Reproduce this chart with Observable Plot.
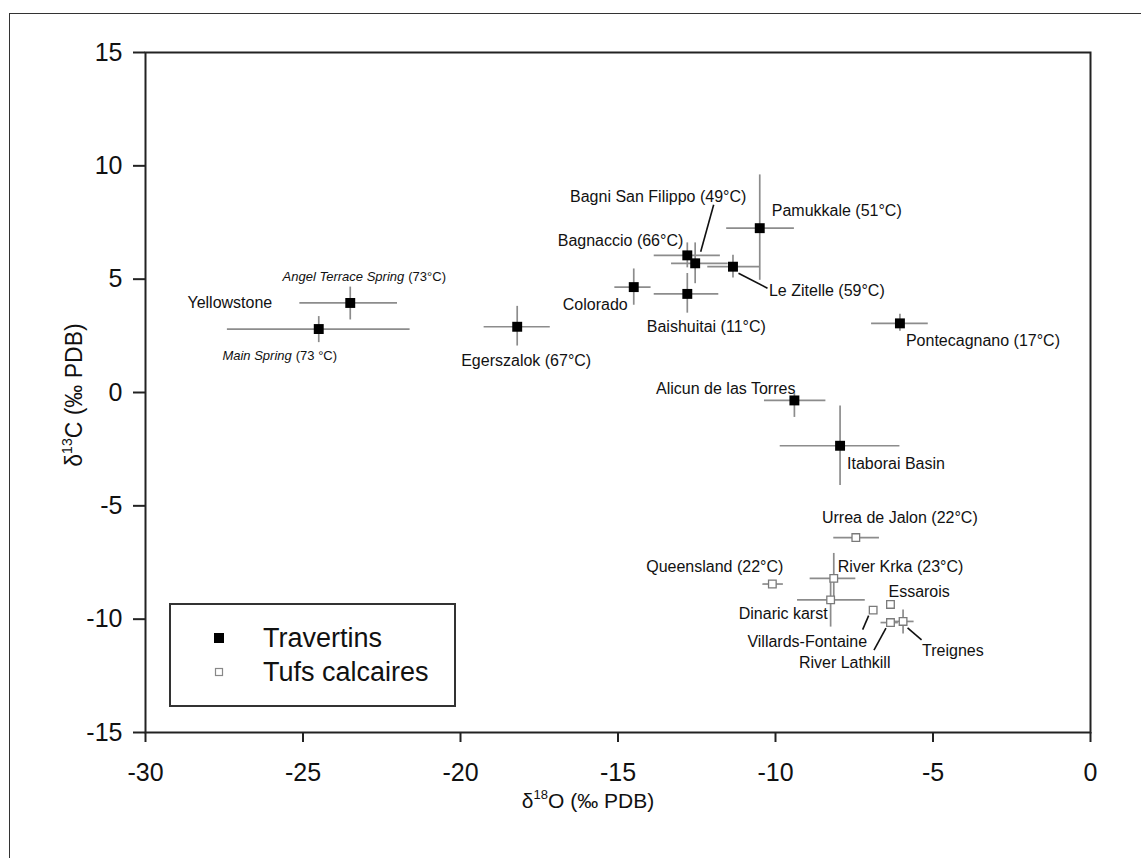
<!DOCTYPE html>
<html>
<head>
<meta charset="utf-8">
<script src="https://cdn.jsdelivr.net/npm/d3@7"></script>
<script src="https://cdn.jsdelivr.net/npm/@observablehq/plot@0.6"></script>
<style>
  html, body { margin: 0; padding: 0; background: #fff; overflow: hidden; }
  #wrap { position: relative; width: 1141px; height: 858px; }
  #outer { position: absolute; left: 9px; top: 13px; width: 1300px; height: 1000px;
           border-left: 1.5px solid #333; border-top: 1.5px solid #333; pointer-events: none; }
  #chart { position: absolute; left: 0; top: 0; }
</style>
</head>
<body>
<div id="wrap"><div id="chart"></div><div id="outer"></div></div>
<script>
// ---------------- DATA ----------------
const names = [
  "Angel Terrace Spring", "Main Spring", "Egerszalok", "Colorado", "Bagnaccio",
  "Bagni San Filippo", "Le Zitelle", "Pamukkale", "Baishuitai", "Pontecagnano",
  "Alicun de las Torres", "Itaborai Basin",
  "Urrea de Jalon", "Queensland", "River Krka", "Dinaric karst",
  "Villards-Fontaine", "Essarois", "River Lathkill", "Treignes"
];
const groups = [
  "Travertins", "Travertins", "Travertins", "Travertins", "Travertins",
  "Travertins", "Travertins", "Travertins", "Travertins", "Travertins",
  "Travertins", "Travertins",
  "Tufs calcaires", "Tufs calcaires", "Tufs calcaires", "Tufs calcaires",
  "Tufs calcaires", "Tufs calcaires", "Tufs calcaires", "Tufs calcaires"
];
const d18O    = [-23.5, -24.5, -18.2, -14.5, -12.8, -12.55, -11.35, -10.5, -12.8, -6.05, -9.4, -7.95,
                 -7.45, -10.1, -8.15, -8.25, -6.9, -6.35, -6.35, -5.95];
const d13C    = [3.95, 2.8, 2.9, 4.65, 6.05, 5.7, 5.55, 7.25, 4.35, 3.05, -0.35, -2.35,
                 -6.4, -8.45, -8.2, -9.15, -9.6, -9.35, -10.15, -10.1];
const d18OMin = [-25.1, -27.4, -19.25, -15.1, -13.85, -13.3, -12.15, -11.55, -13.85, -6.95, -10.35, -9.85,
                 -8.15, -10.4, -8.9, -9.3, null, null, -6.65, -6.25];
const d18OMax = [-22.0, -21.6, -17.15, -13.95, -11.75, -11.5, -10.5, -9.4, -11.8, -5.15, -8.4, -6.05,
                 -6.7, -9.75, -7.45, -7.15, null, null, -6.1, -5.6];
const d13CMin = [3.2, 2.2, 2.05, 3.85, 5.5, 4.8, 5.05, 4.95, 3.5, 2.7, -1.1, -4.1,
                 null, null, -9.2, -10.35, null, null, null, -10.65];
const d13CMax = [4.65, 3.35, 3.8, 5.45, 6.6, 6.6, 6.05, 9.6, 5.25, 3.45, -0.05, -0.6,
                 null, null, -7.1, -8.2, null, null, null, -9.6];

const xTicks = [-30, -25, -20, -15, -10, -5, 0];
const yTicks = [-15, -10, -5, 0, 5, 10, 15];
const legendItems = ["Travertins", "Tufs calcaires"];

const labelTexts = {
  "Egerszalok": "Egerszalok (67°C)",
  "Colorado": "Colorado",
  "Bagnaccio": "Bagnaccio (66°C)",
  "Bagni San Filippo": "Bagni San Filippo (49°C)",
  "Pamukkale": "Pamukkale (51°C)",
  "Le Zitelle": "Le Zitelle (59°C)",
  "Baishuitai": "Baishuitai (11°C)",
  "Pontecagnano": "Pontecagnano (17°C)",
  "Alicun de las Torres": "Alicun de las Torres",
  "Itaborai Basin": "Itaborai Basin",
  "Urrea de Jalon": "Urrea de Jalon (22°C)",
  "Queensland": "Queensland (22°C)",
  "River Krka": "River Krka (23°C)",
  "Dinaric karst": "Dinaric karst",
  "Villards-Fontaine": "Villards-Fontaine",
  "Essarois": "Essarois",
  "River Lathkill": "River Lathkill",
  "Treignes": "Treignes"
};

// ---------------- LAYOUT (pixel offsets from the point) ----------------
const labelLayout = {
  "Egerszalok": [9, 34, "middle"],
  "Colorado": [-6, 18, "end"],
  "Bagnaccio": [-4, -14, "end"],
  "Bagni San Filippo": [-37, -66, "middle"],
  "Pamukkale": [12, -17, "start"],
  "Le Zitelle": [36, 24, "start"],
  "Baishuitai": [19, 33, "middle"],
  "Pontecagnano": [6, 18, "start"],
  "Alicun de las Torres": [1, -12, "end"],
  "Itaborai Basin": [7, 18, "start"],
  "Urrea de Jalon": [44, -20, "middle"],
  "Queensland": [11, -17, "end"],
  "River Krka": [4, -11, "start"],
  "Dinaric karst": [-3, 14, "end"],
  "Villards-Fontaine": [-6, 32, "end"],
  "Essarois": [-2, -13, "start"],
  "River Lathkill": [0, 40, "end"],
  "Treignes": [19, 29, "start"]
};
const leaderLayout = {
  "Bagni San Filippo": [19, -58, 6, -11],
  "Le Zitelle": [6, 7, 35, 22],
  "Villards-Fontaine": [-4, 6, -10, 20],
  "River Lathkill": [-4, 6, -16, 28],
  "Treignes": [5, 7, 19, 19]
};

const FONT = "'Liberation Sans', Arial, Helvetica, sans-serif";

const points = names.map((n, i) => ({
  name: n, group: groups[i], x: d18O[i], y: d13C[i],
  xMin: d18OMin[i], xMax: d18OMax[i], yMin: d13CMin[i], yMax: d13CMax[i]
}));
const trav = points.filter(d => d.group === "Travertins");
const tufs = points.filter(d => d.group === "Tufs calcaires");
const hBars = points.filter(d => d.xMin != null);
const vBars = points.filter(d => d.yMin != null);
const byName = Object.fromEntries(points.map(d => [d.name, d]));

const ERR = "#8c8c8c";

const labelMarks = Object.keys(labelTexts).map(n => {
  const [dx, dy, anchor] = labelLayout[n];
  return Plot.text([byName[n]], {
    x: "x", y: "y", text: () => labelTexts[n], dx, dy, textAnchor: anchor,
    fontSize: 16, fill: "#111", fontFamily: FONT, lineAnchor: "middle"
  });
});

const angel = byName["Angel Terrace Spring"];
const mainSp = byName["Main Spring"];
const specialLabels = [
  Plot.text([angel], {x: "x", y: "y", text: () => "Yellowstone", dx: -78, dy: 0, textAnchor: "end",
    fontSize: 16, fill: "#111", fontFamily: FONT}),
  Plot.text([angel], {x: "x", y: "y", text: () => "Angel Terrace Spring", dx: 54, dy: -26, textAnchor: "end",
    fontSize: 13, fontStyle: "italic", fill: "#111", fontFamily: FONT}),
  Plot.text([angel], {x: "x", y: "y", text: () => "(73°C)", dx: 58, dy: -26, textAnchor: "start",
    fontSize: 13, fill: "#111", fontFamily: FONT}),
  Plot.text([mainSp], {x: "x", y: "y", text: () => "Main Spring", dx: -27, dy: 27, textAnchor: "end",
    fontSize: 13, fontStyle: "italic", fill: "#111", fontFamily: FONT}),
  Plot.text([mainSp], {x: "x", y: "y", text: () => "(73 °C)", dx: -23, dy: 27, textAnchor: "start",
    fontSize: 13, fill: "#111", fontFamily: FONT})
];

// leader lines drawn through the scales
function leaders(index, scales) {
  const g = d3.create("svg:g").attr("stroke", "#111").attr("stroke-width", 1.6);
  for (const [n, [ax, ay, bx, by]] of Object.entries(leaderLayout)) {
    const p = byName[n];
    const px = scales.x(p.x), py = scales.y(p.y);
    g.append("line").attr("x1", px + ax).attr("y1", py + ay).attr("x2", px + bx).attr("y2", py + by);
  }
  return g.node();
}

// axis titles with superscripts
function titles() {
  const g = d3.create("svg:g").attr("font-family", FONT).attr("fill", "#111");
  const tx = g.append("text").attr("x", 588).attr("y", 808).attr("text-anchor", "middle").attr("font-size", 21);
  tx.append("tspan").text("δ");
  tx.append("tspan").attr("dy", -9).attr("font-size", 13).text("18");
  tx.append("tspan").attr("dy", 9).text("O (‰ PDB)");
  const ty = g.append("text").attr("transform", "translate(82,395) rotate(-90)")
    .attr("text-anchor", "middle").attr("font-size", 23);
  ty.append("tspan").text("δ");
  ty.append("tspan").attr("dy", -10).attr("font-size", 14).text("13");
  ty.append("tspan").attr("dy", 10).text("C (‰ PDB)");
  return g.node();
}

// legend box
function legend() {
  const g = d3.create("svg:g").attr("font-family", FONT);
  g.append("rect").attr("x", 170).attr("y", 604).attr("width", 285).attr("height", 102)
    .attr("fill", "#fff").attr("stroke", "#333").attr("stroke-width", 2);
  const ys = [638, 672];
  legendItems.forEach((t, i) => {
    if (i === 0) {
      g.append("rect").attr("x", 214).attr("y", ys[i] - 5).attr("width", 10).attr("height", 10).attr("fill", "#000");
    } else {
      g.append("rect").attr("x", 215.5).attr("y", ys[i] - 3.5).attr("width", 7).attr("height", 7)
        .attr("fill", "#fff").attr("stroke", "#888").attr("stroke-width", 1.2);
    }
    g.append("text").attr("x", 263).attr("y", ys[i]).attr("dy", "0.35em").attr("font-size", 27)
      .attr("text-anchor", "start").attr("fill", "#111").text(t);
  });
  return g.node();
}

const chart = Plot.plot({
  width: 1141,
  height: 858,
  marginLeft: 145,
  marginRight: 51,
  marginTop: 52,
  marginBottom: 126,
  style: {fontFamily: FONT, background: "transparent", color: "#111"},
  x: {domain: [-30, 0]},
  y: {domain: [-15, 15]},
  marks: [
    Plot.ruleY(hBars, {y: "y", x1: "xMin", x2: "xMax", stroke: ERR, strokeWidth: 1.7}),
    Plot.ruleX(vBars, {x: "x", y1: "yMin", y2: "yMax", stroke: ERR, strokeWidth: 1.7}),
    Plot.dot(trav, {x: "x", y: "y", symbol: "square", r: 5.6, fill: "#000", stroke: "none"}),
    Plot.dot(tufs, {x: "x", y: "y", symbol: "square", r: 4.3, fill: "#fff", stroke: "#7a7a7a", strokeWidth: 1.3}),
    ...labelMarks,
    ...specialLabels,
    leaders,
    Plot.frame({stroke: "#222", strokeWidth: 2}),
    Plot.axisX({ticks: xTicks, tickFormat: d => String(d), tickSize: 10, tickPadding: 21,
      fontSize: 25, label: null, stroke: "#222", strokeWidth: 2, fill: "#111"}),
    Plot.axisY({ticks: yTicks, tickFormat: d => String(d), tickSize: 12, tickPadding: 11,
      fontSize: 25, label: null, stroke: "#222", strokeWidth: 2, fill: "#111"}),
    titles,
    legend
  ]
});
document.getElementById("chart").appendChild(chart);
</script>
</body>
</html>
